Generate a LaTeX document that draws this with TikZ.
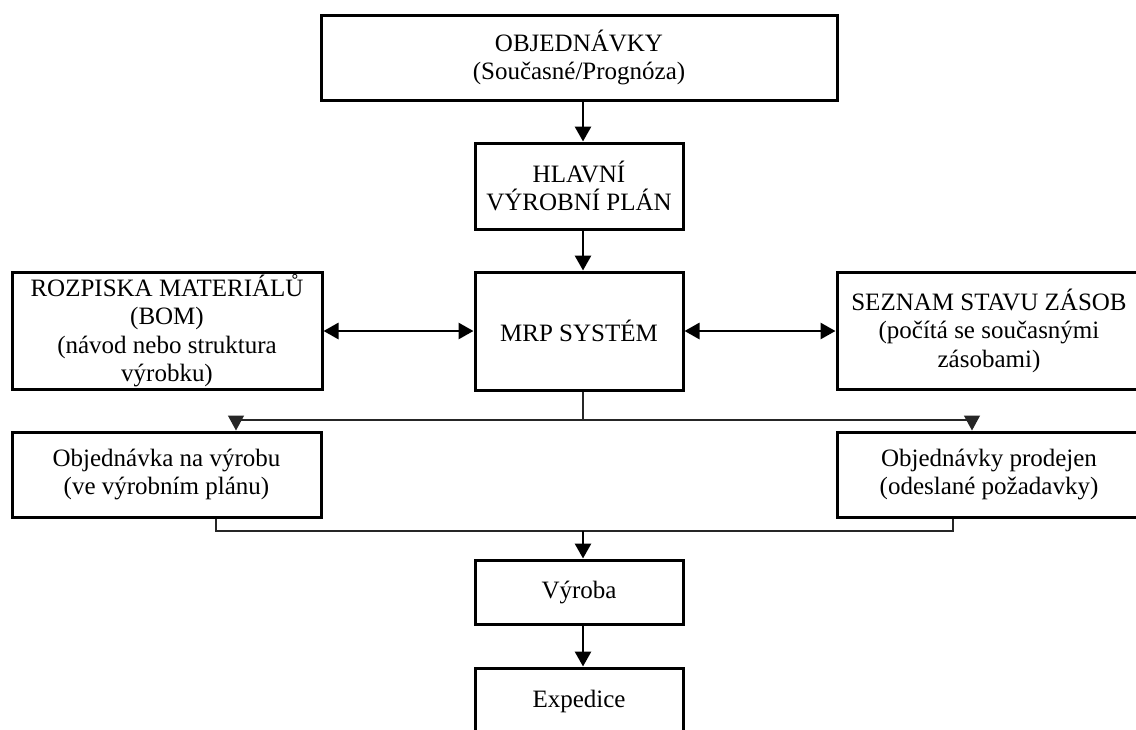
\documentclass[tikz,border=0pt]{standalone}
\usepackage{fontspec}
\setmainfont{Liberation Serif}
\usetikzlibrary{arrows.meta,calc}
\begin{document}
\begin{tikzpicture}[x=1pt,y=-1pt,
  box/.style={draw, line width=3pt, rectangle, inner sep=0pt, align=center,
    font=\fontsize{25}{28.5}\selectfont},
  tip/.style={-{Triangle[length=15pt,width=16pt]}},
  dtip/.style={{Triangle[length=15pt,width=16pt]}-{Triangle[length=15pt,width=16pt]}},
  thickline/.style={line width=2.8pt},
  thinline/.style={line width=1.3pt, black!85}]
\path[use as bounding box, clip] (0,0) rectangle (1136,729);
\fill[white] (0,0) rectangle (1136,729);

\node[box, minimum width=516pt, minimum height=85pt] (top) at (579,57.5)
  {OBJEDNÁVKY\\(Současné/Prognóza)};
\node[box, minimum width=208pt, minimum height=86pt] (hlavni) at (579,186)
  {HLAVNÍ\\VÝROBNÍ PLÁN};
\node[box, minimum width=208pt, minimum height=118pt] (mrp) at (579,331)
  {MRP SYSTÉM};
\node[box, minimum width=310pt, minimum height=117pt] (rozpiska) at (167,330.5)
  {ROZPISKA MATERIÁLŮ\\(BOM)\\(návod nebo struktura\\výrobku)};
\node[box, minimum width=304pt, minimum height=117pt] (seznam) at (989,330.5)
  {SEZNAM STAVU ZÁSOB\\(počítá se současnými\\zásobami)};
\node[box, minimum width=309pt, minimum height=85pt] (objv) at (166.5,474.5)
  {Objednávka na výrobu\\(ve výrobním plánu)};
\node[box, minimum width=304pt, minimum height=85pt] (objp) at (989,474.5)
  {Objednávky prodejen\\(odeslané požadavky)};
\node[box, minimum width=208pt, minimum height=64pt] (vyroba) at (579,592)
  {Výroba};
\node[box, minimum width=208pt, minimum height=66pt] (expedice) at (579,701)
  {Expedice};

% coordinates for the thin branch / merge lines
\coordinate (bl) at (236,420);
\coordinate (br) at (972,420);
\coordinate (ml) at (216,531);
\coordinate (mr) at (953,531);
\coordinate (mc) at (583,531);

\draw[thickline, tip] ([xshift=4pt]top.south) -- ([xshift=4pt]hlavni.north);
\draw[thickline, tip] ([xshift=4pt]hlavni.south) -- ([xshift=4pt]mrp.north);
\draw[thickline, dtip] (rozpiska.east |- mrp) -- (mrp.west);
\draw[thickline, dtip] (mrp.east) -- (seznam.west |- mrp);

\draw[thinline, tip] ([xshift=4pt]mrp.south) |- (bl) -- (objv.north -| bl);
\draw[thinline, tip] ([xshift=4pt]mrp.south) |- (br) -- (objp.north -| br);

\draw[thinline] (objv.south -| ml) -- (ml) -- (mr) -- (objp.south -| mr);
\draw[thickline, tip] (mc) -- (vyroba.north -| mc);
\draw[thickline, tip] ([xshift=4pt]vyroba.south) -- ([xshift=4pt]expedice.north);
\end{tikzpicture}
\end{document}
